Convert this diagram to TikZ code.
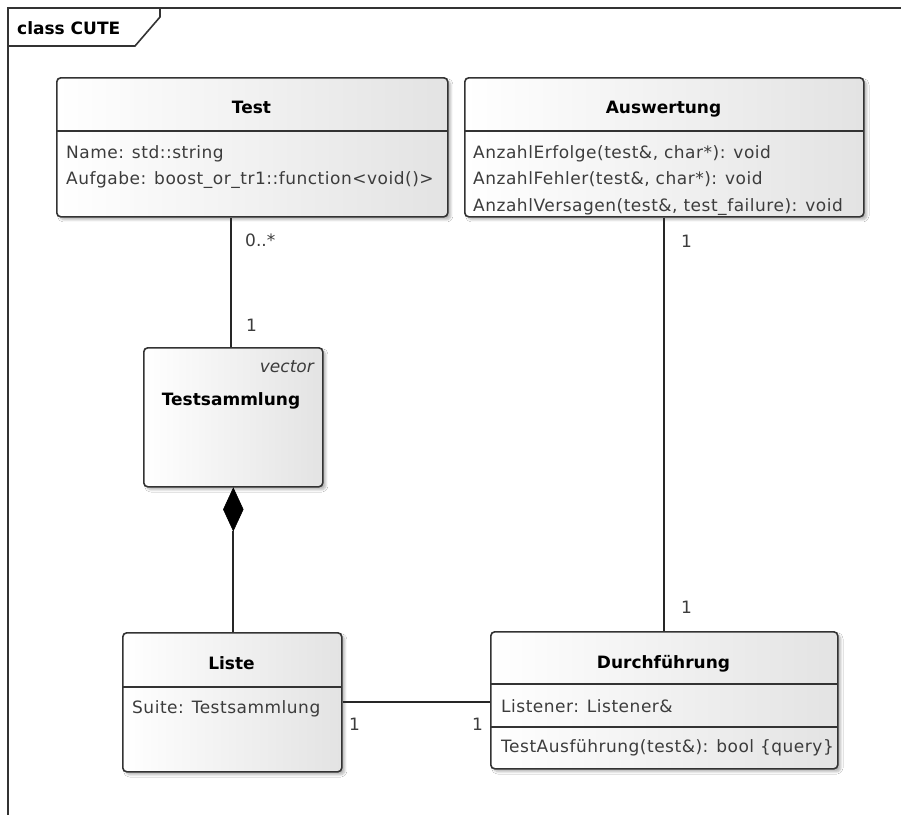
\documentclass[tikz,border=0pt]{standalone}
\usepackage{fontspec}
\setmainfont{DejaVu Sans}
\usetikzlibrary{shapes.geometric,shadows.blur}

\definecolor{edge}{HTML}{333333}
\definecolor{txt}{HTML}{3C3C3C}

\newfontfamily\attrfont[LetterSpace=3]{DejaVu Sans}

\tikzset{
  umlbox/.style={draw=edge, line width=1.6pt, rounded corners=4pt,
    left color=white, right color=black!11, inner sep=0pt,
    anchor=north west,
    blur shadow={shadow xshift=3pt, shadow yshift=-3pt,
      shadow blur steps=6, shadow opacity=28}},
  sep/.style={draw=edge, line width=1.6pt},
  conn/.style={draw=black!85, line width=1.7pt},
  title/.style={font=\bfseries\fontsize{17}{20}\selectfont, text=black,
    anchor=base, inner sep=0pt},
  attr/.style={font=\attrfont\fontsize{17}{20}\selectfont, text=txt,
    anchor=base west, inner sep=0pt},
  mult/.style={font=\fontsize{17}{20}\selectfont, text=txt,
    anchor=base west, inner sep=0pt},
}

\begin{document}
\begin{tikzpicture}[x=1pt,y=-1pt]
\useasboundingbox (0,0) rectangle (901,815);
\fill[white] (0,0) rectangle (901,815);

% diagram frame and its name tab
\draw[edge, line width=1.6pt] (901,8) -- (8,8) -- (8,815);
\draw[edge, line width=1.6pt] (8,46) -- (135,46) -- (160,17) -- (160,8);
\node[font=\bfseries\fontsize{17}{20}\selectfont, anchor=base west, inner sep=0pt] (frame) at (17,34) {class CUTE};

% class Test
\node[umlbox, minimum width=391pt, minimum height=139pt] (test) at (56,77) {};
\draw[sep] (56,131) -- (447,131);
\node[title] (testT) at (251.5,113) {Test};
\node[attr] (testA) at (66,158) {Name: std::string};
\node[attr] (testB) at (66,184) {Aufgabe: boost\_or\_tr1::function<void()>};

% class Auswertung
\node[umlbox, minimum width=399pt, minimum height=139pt] (ausw) at (464,77) {};
\draw[sep] (464,131) -- (863,131);
\node[title] (auswT) at (663.5,113) {Auswertung};
\node[attr] (auswA) at (473,158) {AnzahlErfolge(test\&, char*): void};
\node[attr] (auswB) at (473,184.5) {AnzahlFehler(test\&, char*): void};
\node[attr] (auswC) at (473,211) {AnzahlVersagen(test\&, test\_failure): void};

% class Testsammlung
\node[umlbox, minimum width=179pt, minimum height=139pt] (samm) at (143,347) {};
\node[attr, anchor=base east, font=\itshape\fontsize{17}{20}\selectfont] (sammS) at (314,372) {vector};
\node[title] (sammT) at (231,405) {Testsammlung};

% class Liste
\node[umlbox, minimum width=219pt, minimum height=139pt] (liste) at (122,632) {};
\draw[sep] (122,687) -- (341,687);
\node[title] (listeT) at (231.5,669) {Liste};
\node[attr] (listeA) at (132,713) {Suite: Testsammlung};

% class Durchfuehrung
\node[umlbox, minimum width=347pt, minimum height=137pt] (durch) at (490,631) {};
\draw[sep] (490,684) -- (837,684);
\draw[sep] (490,727) -- (837,727);
\node[title] (durchT) at (663.5,668) {Durchführung};
\node[attr] (durchA) at (501,712) {Listener: Listener\&};
\node[attr] (durchB) at (501,752) {TestAusführung(test\&): bool \{query\}};

% composition diamond below Testsammlung
\node[diamond, fill=black, draw=black, line width=0.6pt, inner sep=0pt,
  minimum width=20pt, minimum height=43pt, anchor=north] (dia) at (samm.south) {};

% associations
\draw[conn] (samm.north -| 231,0) coordinate (tsTop) -- (tsTop |- test.south);
\draw[conn] (dia.south) -- (dia.south |- liste.north);
\draw[conn] (ausw.south) -- (ausw.south |- durch.north);
\draw[conn] (liste.east) -- (liste.east -| durch.west);

% multiplicities
\node[mult] (m1) at (245,246) {0..*};
\node[mult] (m2) at (246,331) {1};
\node[mult] (m3) at (681,247) {1};
\node[mult] (m4) at (681,613) {1};
\node[mult] (m5) at (349,730) {1};
\node[mult] (m6) at (472,730) {1};
\end{tikzpicture}
\end{document}
